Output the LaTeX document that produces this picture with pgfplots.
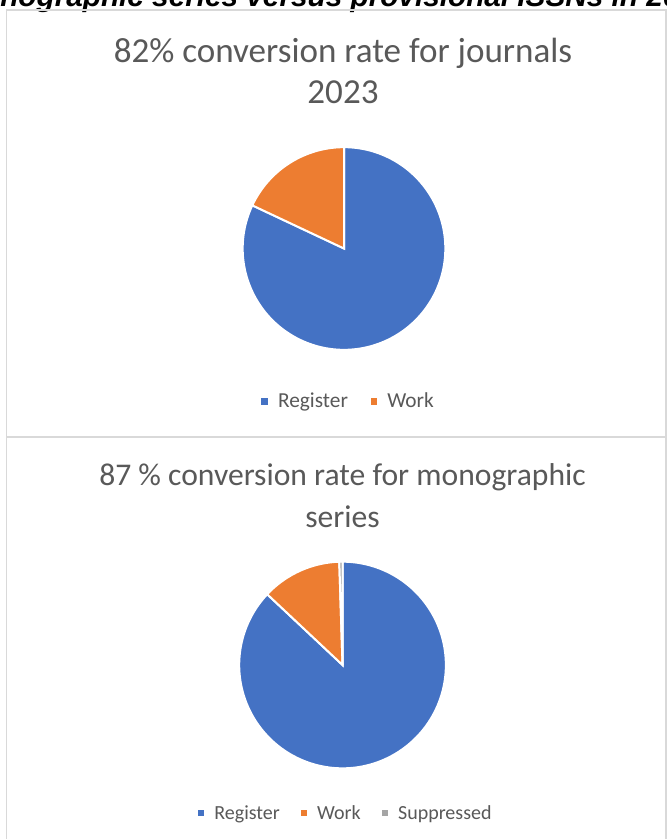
\documentclass[border=0pt]{standalone}
\usepackage{pgfplots}
\pgfplotsset{compat=1.18}
\usepackage{pgfplotstable}
\usepackage{fontspec}
\setmainfont{Carlito}
\newfontfamily\arialfont{Liberation Sans}
\definecolor{tgray}{HTML}{595959}
\definecolor{pblue}{HTML}{4472C4}
\definecolor{porange}{HTML}{ED7D31}
\definecolor{pgray}{HTML}{A5A5A5}
\definecolor{bord}{HTML}{D9D9D9}

\pgfplotstableread{
label value
Register 82
Work 18
}\journals
\pgfplotstableread{
label value
Register 87
Work 12.5
Suppressed 0.5
}\monos

\begin{document}
\begin{tikzpicture}[x=0.75pt,y=-0.75pt]
\useasboundingbox (0,0) rectangle (667,839);
\fill[white] (0,0) rectangle (667,839);
% cut-off header
\node[anchor=base west, inner sep=0pt, font=\arialfont\bfseries\itshape\fontsize{22.3pt}{26pt}\selectfont] at (0,6) {\llap{Mo}nographic series versus provisional ISSNs in 20\rlap{23}};
% panel frames
\draw[bord, line width=1.2pt] (6.5,10) rectangle (666,437);
\draw[bord, line width=1.2pt] (6.5,437) rectangle (666,870);
% titles
\node[anchor=base, inner sep=0pt, text=tgray, font=\fontsize{26.3pt}{31pt}\selectfont] at (343,62) {82\% conversion rate for journals};
\node[anchor=base, inner sep=0pt, text=tgray, font=\fontsize{26.3pt}{31pt}\selectfont] at (343,103) {2023};
\node[anchor=base, inner sep=0pt, text=tgray, font=\fontsize{23.7pt}{28pt}\selectfont] at (342.5,485) {87 \% conversion rate for monographic};
\node[anchor=base, inner sep=0pt, text=tgray, font=\fontsize{23.7pt}{28pt}\selectfont] at (342.5,527) {series};

% angles (Excel: start at 12 o'clock, clockwise)
\pgfplotstablegetelem{0}{value}\of\journals \let\jA\pgfplotsretval
\pgfplotstablegetelem{1}{value}\of\journals \let\jB\pgfplotsretval
\pgfmathsetmacro\jS{90-3.6*\jA}
\pgfmathsetmacro\jT{\jS-3.6*\jB}
\pgfplotstablegetelem{0}{value}\of\monos \let\mA\pgfplotsretval
\pgfplotstablegetelem{1}{value}\of\monos \let\mB\pgfplotsretval
\pgfplotstablegetelem{2}{value}\of\monos \let\mC\pgfplotsretval
\pgfmathsetmacro\mS{90-3.6*\mA}
\pgfmathsetmacro\mT{\mS-3.6*\mB}
\pgfmathsetmacro\mU{\mT-3.6*\mC}

\begin{axis}[at={(258pt,-186.375pt)}, anchor=center, scale only axis,
  width=152pt, height=152pt, xmin=-1, xmax=1, ymin=-1, ymax=1,
  hide axis, clip=false,
  legend columns=-1,
  legend image code/.code={\fill[#1,draw=none] (0pt,-2.4pt) rectangle (4.8pt,2.4pt); \path[draw=none,fill=none] (0pt,0pt) -- (12.5pt,0pt);},
  legend style={draw=none, fill=none, inner sep=0pt, outer sep=0pt,
    at={(axis cs:-0.815,-1.51)}, anchor=west, text=tgray,
    font=\fontsize{16pt}{19pt}\selectfont, nodes={inner sep=0pt},
    /tikz/every even column/.append style={column sep=17pt}}]
\addplot[fill=pblue, draw=white, line width=1.5pt, domain=\jS:90, samples=150] ({cos(x)},{sin(x)}) -- (axis cs:0,0) -- cycle;
\addlegendentry{Register}
\addplot[fill=porange, draw=white, line width=1.5pt, domain=\jT:\jS, samples=60] ({cos(x)},{sin(x)}) -- (axis cs:0,0) -- cycle;
\addlegendentry{Work}
\end{axis}

\begin{axis}[at={(256.9pt,-498.75pt)}, anchor=center, scale only axis,
  width=155pt, height=155pt, xmin=-1, xmax=1, ymin=-1, ymax=1,
  hide axis, clip=false,
  legend columns=-1,
  legend image code/.code={\fill[#1,draw=none] (0pt,-2.25pt) rectangle (4.5pt,2.25pt); \path[draw=none,fill=none] (0pt,0pt) -- (12pt,0pt);},
  legend style={draw=none, fill=none, inner sep=0pt, outer sep=0pt,
    at={(axis cs:-1.395,-1.437)}, anchor=west, text=tgray,
    font=\fontsize{15pt}{18pt}\selectfont, nodes={inner sep=0pt},
    /tikz/every even column/.append style={column sep=16pt}}]
\addplot[fill=pblue, draw=white, line width=1.5pt, domain=\mS:90, samples=150] ({cos(x)},{sin(x)}) -- (axis cs:0,0) -- cycle;
\addlegendentry{Register}
\addplot[fill=porange, draw=white, line width=1.5pt, domain=\mT:\mS, samples=60] ({cos(x)},{sin(x)}) -- (axis cs:0,0) -- cycle;
\addlegendentry{Work}
\addplot[fill=pgray, draw=white, line width=1.5pt, domain=\mU:\mT, samples=10] ({cos(x)},{sin(x)}) -- (axis cs:0,0) -- cycle;
\addlegendentry{Suppressed}
\end{axis}
\end{tikzpicture}
\end{document}
